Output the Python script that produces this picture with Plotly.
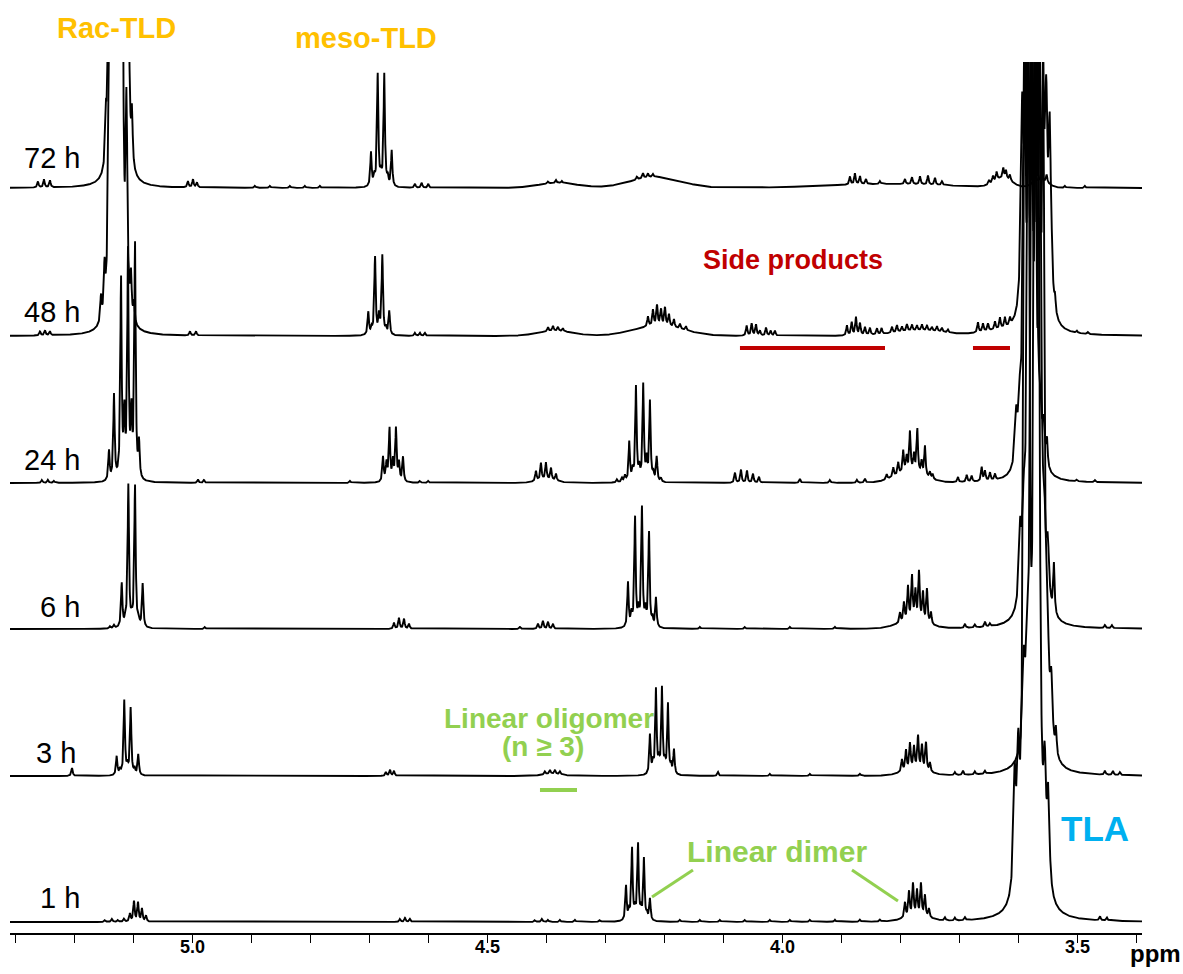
import numpy as np
import plotly.graph_objects as go

# ---- stacked 1H NMR spectra ----------------------------------------------
# each line: (ppm, intensity) or (ppm, intensity, half-width in ppm)
times = ["72 h", "48 h", "24 h", "6 h", "3 h", "1 h"]
offsets = [745, 597, 450, 304, 157, 11]

lines_72h = [
    (5.2625, 6), (5.2523, 8), (5.2422, 7),
    (5.1472, 45), (5.1430, 110, 0.0018), (5.1380, 320, 0.0018), (5.1328, 450, 0.0018), (5.1280, 320, 0.0018),
    (5.1235, 380, 0.0018), (5.1175, 450, 0.0018), (5.1130, 280, 0.0018), (5.1090, 130, 0.0018), (5.1031, 50),
    (5.0081, 6), (4.9996, 8), (4.9928, 5),
    (4.8945, 2), (4.8690, 2), (4.8351, 2), (4.8097, 2), (4.7842, 2),
    (4.6977, 34), (4.6921, 8), (4.6863, 112), (4.6809, 10), (4.6752, 112), (4.6694, 8), (4.6626, 36),
    (4.6231, 4), (4.6117, 5), (4.6005, 4),
    (4.3975, 2), (4.3839, 3), (4.3738, 2),
    (4.2466, 3), (4.2364, 5), (4.2279, 4), (4.2194, 3),
    (3.8853, 8), (3.8768, 11), (3.8683, 8), (3.8581, 5), (3.8344, 3),
    (3.7920, 5), (3.7801, 7), (3.7665, 8), (3.7530, 9), (3.7411, 7), (3.7292, 4),
    (3.6495, 4), (3.6427, 6), (3.6365, 8), (3.6253, 10), (3.6207, 8), (3.6139, 6),
    (3.5715, 12), (3.5601, 10), (3.5517, 8),
    (3.5206, 2), (3.4867, 2),
]
humps_72h = [(4.3805, 5, 0.08), (4.215, 11, 0.10), (3.82, 4, 0.25), (3.626, 9, 0.035), (3.562, 7, 0.03)]

lines_48h = [
    (5.2591, 4), (5.2506, 5), (5.2422, 4),
    (5.1557, 25), (5.1497, 45), (5.1421, 200, 0.0018), (5.1380, 260, 0.0018), (5.1353, 500, 0.0018),
    (5.1300, 300, 0.0018), (5.1277, 350, 0.0018), (5.1230, 300, 0.0018), (5.1200, 500, 0.0018),
    (5.1124, 200, 0.0018), (5.1048, 40), (5.0997, 20),
    (5.0047, 4), (4.9945, 4),
    (4.7023, 23), (4.6965, 6), (4.6909, 78), (4.6841, 18), (4.6785, 79), (4.6723, 6), (4.6667, 24),
    (4.6231, 3), (4.6146, 3), (4.6061, 3),
    (4.3975, 4), (4.3890, 5), (4.3805, 4), (4.3721, 3),
    (4.2279, 10), (4.2194, 16), (4.2126, 20), (4.2058, 16), (4.1991, 18), (4.1923, 12), (4.1838, 8),
    (4.1736, 5), (4.1634, 4),
    (4.0605, 10), (4.0520, 12), (4.0447, 11), (4.0379, 5), (4.0277, 8), (4.0198, 5), (4.0125, 5),
    (3.8904, 10), (3.8824, 13), (3.8751, 18), (3.8683, 12), (3.8598, 8), (3.8514, 7), (3.8395, 6), (3.8315, 6),
    (3.8140, 6), (3.8056, 7), (3.7971, 5), (3.7886, 7), (3.7801, 6), (3.7716, 5), (3.7632, 6), (3.7547, 5),
    (3.7462, 4), (3.7377, 5), (3.7292, 4), (3.7191, 3),
    (3.6682, 10), (3.6597, 8), (3.6512, 7), (3.6393, 8), (3.6308, 11), (3.6224, 10), (3.6139, 7),
    (3.5932, 190, 0.0025), (3.5872, 190, 0.0025), (3.5796, 380, 0.0025), (3.5736, 380, 0.0025),
    (3.5660, 380, 0.0025), (3.5600, 380, 0.0025), (3.5525, 175, 0.0025), (3.5465, 170, 0.0025),
    (3.5427, 20), (3.5376, 14),
    (3.5003, 2), (3.4817, 2),
]
humps_48h = [(4.385, 5, 0.07), (4.21, 10, 0.10), (3.7665, 5, 0.10), (3.64, 3, 0.06)]

lines_24h = [
    (5.2557, 3), (5.2456, 3), (5.2354, 2),
    (5.1421, 30), (5.1336, 85), (5.1217, 200), (5.1160, 60), (5.1099, 225), (5.1040, 60), (5.0980, 235),
    (5.0912, 35),
    (4.9911, 3), (4.9810, 3),
    (4.7333, 2),
    (4.6773, 25), (4.6714, 18), (4.6663, 53), (4.6604, 20), (4.6553, 53), (4.6502, 18), (4.6434, 25),
    (4.6146, 2), (4.6005, 2),
    (4.4179, 10), (4.4094, 17), (4.4009, 17), (4.3924, 12), (4.3839, 7),
    (4.2805, 3), (4.2720, 4), (4.2669, 6), (4.2596, 40), (4.2538, 10), (4.2482, 95), (4.2426, 12),
    (4.2359, 97), (4.2301, 20), (4.2245, 80), (4.2189, 8), (4.2131, 25), (4.2058, 4),
    (4.0803, 10), (4.0702, 13), (4.0600, 12), (4.0498, 9), (4.0396, 6),
    (3.9701, 4), (3.9192, 3), (3.8734, 3), (3.8598, 4),
    (3.8230, 5), (3.8118, 9), (3.8034, 12), (3.7949, 22), (3.7891, 15), (3.7835, 40), (3.7767, 17),
    (3.7711, 44), (3.7637, 13), (3.7581, 30), (3.7496, 6), (3.7450, 5),
    (3.7021, 5), (3.6873, 7), (3.6789, 6), (3.6619, 14), (3.6563, 10), (3.6478, 8), (3.6393, 6),
    (3.6033, 48, 0.0025), (3.5973, 45, 0.0025), (3.5898, 360, 0.0025), (3.5838, 360, 0.0025),
    (3.5762, 360, 0.0025), (3.5702, 360, 0.0025), (3.5626, 40, 0.0025), (3.5566, 38, 0.0025),
    (3.5511, 25),
    (3.5003, 2), (3.4697, 2),
]
humps_24h = [(4.40, 3, 0.04), (3.785, 10, 0.06)]

lines_6h = [
    (5.1404, 2), (5.1336, 3),
    (5.1205, 44), (5.1144, 6), (5.1093, 142), (5.1036, 6), (5.0980, 142), (5.0917, 6), (5.0849, 44),
    (4.9793, 2),
    (4.6587, 6), (4.6502, 11), (4.6417, 10), (4.6332, 5),
    (4.4450, 2),
    (4.4145, 5), (4.4060, 8), (4.3975, 7), (4.3890, 5),
    (4.2618, 45), (4.2559, 12), (4.2499, 110), (4.2440, 15), (4.2381, 119), (4.2321, 15), (4.2262, 95),
    (4.2203, 8), (4.2143, 30),
    (4.1397, 2), (4.0634, 2), (3.9870, 2), (3.9107, 2),
    (3.8005, 10), (3.7937, 19), (3.7869, 34), (3.7801, 44), (3.7742, 29), (3.7682, 49), (3.7615, 29),
    (3.7547, 34), (3.7479, 12),
    (3.6902, 4), (3.6733, 3), (3.6563, 5), (3.6478, 3),
    (3.5966, 70, 0.0025), (3.5906, 70, 0.0025), (3.5830, 500, 0.0025), (3.5770, 500, 0.0025),
    (3.5694, 500, 0.0025), (3.5634, 500, 0.0025), (3.5558, 60, 0.0025), (3.5498, 55, 0.0025),
    (3.5393, 50),
    (3.4528, 3), (3.4409, 3),
]
humps_6h = [(3.78, 7, 0.06)]

lines_3h = [
    (5.2048, 8),
    (5.1290, 19), (5.1234, 5), (5.1161, 75), (5.1107, 8), (5.1053, 67), (5.0988, 6), (5.0924, 21),
    (4.6723, 4), (4.6654, 6), (4.6587, 5),
    (4.4026, 3), (4.3941, 4), (4.3856, 4), (4.3771, 3),
    (4.2245, 40), (4.2194, 10), (4.2143, 85), (4.2092, 12), (4.2041, 86), (4.1991, 10), (4.1940, 70),
    (4.1889, 8), (4.1838, 25),
    (4.1092, 4),
    (4.0210, 2), (3.9531, 2), (3.8683, 2),
    (3.7971, 12), (3.7903, 20), (3.7835, 26), (3.7767, 22), (3.7699, 33), (3.7632, 24), (3.7564, 28),
    (3.7496, 9),
    (3.7072, 3), (3.6936, 4), (3.6733, 3), (3.6563, 3),
    (3.5906, 80, 0.0025), (3.5846, 80, 0.0025), (3.5770, 600, 0.0025), (3.5710, 600, 0.0025),
    (3.5635, 600, 0.0025), (3.5575, 600, 0.0025), (3.5499, 65, 0.0025), (3.5439, 60, 0.0025),
    (3.5359, 25),
    (3.4528, 4), (3.4392, 4), (3.4273, 3),
]
humps_3h = [(4.39, 2, 0.04), (3.775, 6, 0.05)]

lines_1h = [
    (5.1489, 2), (5.1370, 3), (5.1268, 2), (5.1166, 3),
    (5.1065, 8), (5.0997, 20), (5.0929, 19), (5.0861, 13), (5.0793, 6),
    (4.6485, 3), (4.6400, 4), (4.6316, 3),
    (4.4195, 2), (4.4077, 3), (4.3975, 2),
    (4.3771, 2), (4.3517, 2), (4.3093, 2),
    (4.2652, 35), (4.2601, 8), (4.2550, 72), (4.2499, 10), (4.2448, 76), (4.2398, 10), (4.2347, 62),
    (4.2296, 6), (4.2245, 22),
    (4.1736, 2), (4.1397, 2), (4.1058, 2), (4.0634, 2), (4.0210, 2), (3.9870, 2), (3.9531, 2),
    (3.9107, 2), (3.8683, 2), (3.8344, 2),
    (3.7920, 15), (3.7852, 25), (3.7784, 32), (3.7716, 25), (3.7649, 32), (3.7581, 21), (3.7513, 9),
    (3.7242, 3), (3.7072, 3), (3.6902, 3),
    (3.6059, 110, 0.0025), (3.5999, 110, 0.0025), (3.5889, 800, 0.0025), (3.5829, 800, 0.0025),
    (3.5720, 800, 0.0025), (3.5660, 800, 0.0025), (3.5550, 100, 0.0025), (3.5490, 90, 0.0025),
    (3.4612, 4), (3.4494, 3),
]
humps_1h = [(3.772, 5, 0.05)]

all_lines = [lines_72h, lines_48h, lines_24h, lines_6h, lines_3h, lines_1h]
all_humps = [humps_72h, humps_48h, humps_24h, humps_6h, humps_3h, humps_1h]

# axis ticks every 0.1 ppm, labelled every 0.5 ppm
tick_ppm = [5.3, 5.2, 5.1, 5.0, 4.9, 4.8, 4.7, 4.6, 4.5, 4.4, 4.3, 4.2, 4.1, 4.0, 3.9, 3.8, 3.7, 3.6, 3.5, 3.4]
label_ppm = [5.0, 4.5, 4.0, 3.5]
label_text = ["5.0", "4.5", "4.0", "3.5"]

# ---- line shapes ----------------------------------------------------------
ppm = np.linspace(3.39, 5.31, 6401)
HWHM = 0.00135


def build_spectrum(lines, humps):
    y = np.zeros_like(ppm)
    for line in lines:
        centre, height = line[0], line[1]
        hw = line[2] if len(line) > 2 else HWHM
        y += height / (1.0 + ((ppm - centre) / hw) ** 2)
    for centre, height, fwhm in humps:
        y += height * np.exp(-4.0 * np.log(2.0) * ((ppm - centre) / fwhm) ** 2)
    return y


fig = go.Figure()
for name, off, lines, humps in zip(times, offsets, all_lines, all_humps):
    fig.add_trace(go.Scatter(
        x=ppm, y=off + build_spectrum(lines, humps), mode="lines", name=name,
        line=dict(color="black", width=1.9), hoverinfo="skip",
    ))

FONT = "Liberation Sans, Arial, sans-serif"
ORANGE = "#FFC000"
RED = "#C00000"
GREEN = "#92D050"
BLUE = "#00B0F0"


def label(text, x, y, size, color, xanchor="center", bold=True, xref="x", yref="y"):
    fig.add_annotation(
        x=x, y=y, xref=xref, yref=yref, text=text, showarrow=False,
        xanchor=xanchor, yanchor="middle",
        font=dict(family=FONT, size=size, color=color, weight="bold" if bold else "normal"),
    )


# time labels at the left of each spectrum
time_label_pos = [(5.1879, 775), (5.1879, 621), (5.1879, 473), (5.1879, 326), (5.1947, 180), (5.1879, 35)]
for name, (lx, ly) in zip(times, time_label_pos):
    label(name, lx, ly, 29, "black", xanchor="right", bold=False)

# ppm scale labels under the axis
for v, t in zip(label_ppm, label_text):
    label(t, v, -0.0155, 18, "black", yref="paper")

label("Rac-TLD", 0.0945, 1.039, 29, ORANGE, xref="paper", yref="paper")
label("meso-TLD", 0.3145, 1.0276, 29, ORANGE, xref="paper", yref="paper")
label("ppm", 1.0115, -0.024, 24, "black", xref="paper", yref="paper")
label("Side products", 3.9820, 673, 27, RED)
label("Linear oligomer", 4.3958, 215, 28, GREEN)
label("(n \u2265 3)", 4.4060, 187, 28, GREEN)
label("Linear dimer", 4.0091, 82, 30, GREEN)
label("TLA", 3.4697, 105, 35, BLUE)

# highlight bars and leader lines
bars = [
    (4.0719, 585, 3.8259, 585, RED, 4),
    (3.6767, 585, 3.6139, 585, RED, 4),
    (4.4111, 143, 4.3483, 143, GREEN, 4),
    (4.2211, 36, 4.1516, 63, GREEN, 3),
    (3.8819, 63, 3.8039, 32, GREEN, 3),
]
for x0, y0, x1, y1, col, w in bars:
    fig.add_shape(type="line", x0=x0, y0=y0, x1=x1, y1=y1, xref="x", yref="y",
                  line=dict(color=col, width=w))

fig.update_layout(
    width=1183, height=974,
    margin=dict(l=10, r=41, t=62, b=41),
    plot_bgcolor="white", paper_bgcolor="white",
    showlegend=False,
    xaxis=dict(
        range=[5.31, 3.39], showgrid=False, zeroline=False,
        showline=True, linecolor="black", linewidth=1.5,
        ticks="outside", ticklen=8, tickwidth=1.3, tickcolor="black",
        tickvals=tick_ppm, showticklabels=False,
    ),
    yaxis=dict(range=[0, 871], visible=False),
)

fig.write_html("out.html")
